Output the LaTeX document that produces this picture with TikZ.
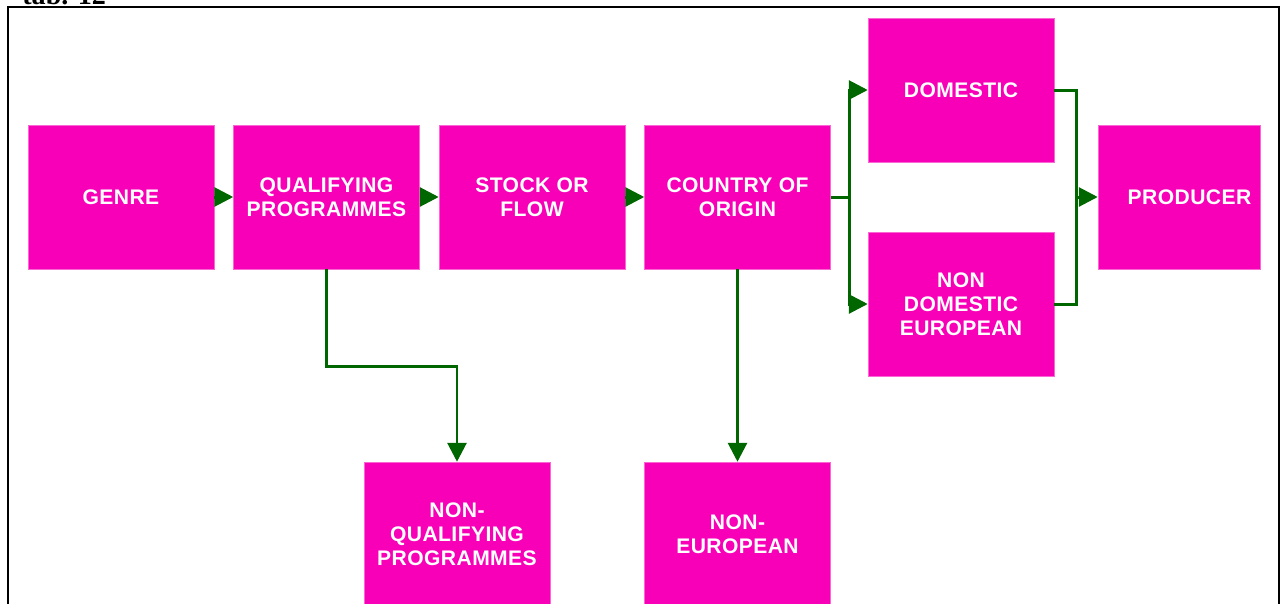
\documentclass[tikz,border=0pt]{standalone}
\usepackage{fontspec}
\setmainfont{Liberation Sans}
\newfontfamily\serifcap{Liberation Serif}
\newfontfamily\boxfont[LetterSpace=2]{Liberation Sans}
\usetikzlibrary{arrows.meta}
\definecolor{boxpink}{RGB}{247,0,184}
\definecolor{flowgreen}{RGB}{0,102,0}

\begin{document}
\begin{tikzpicture}[x=0.02cm,y=-0.02cm,
  stage/.style={fill=boxpink,draw=boxpink!60,line width=0.3pt,text=white,
    minimum width=3.72cm,minimum height=2.88cm,align=center,
    font=\boxfont\fontsize{12}{13.8}\selectfont\bfseries},
  link/.style={flowgreen,line width=1.7pt},
  flow/.style={link,-{Triangle[length=3.8mm,width=3.8mm]}}]
  % page area and frame
  \useasboundingbox (0,0) rectangle (1281,603);
  \clip (0,0) rectangle (1281,603);
  \draw[line width=1.2pt] (8,7) rectangle (1279,640);
  \node[anchor=base west,inner sep=0pt,font=\serifcap\fontsize{16}{18}\selectfont\bfseries] (tab) at (22,4) {tab. 12};
  % top row
  \node[stage] (genre) at (121,197) {GENRE};
  \node[stage] (qual) at (326.5,197) {QUALIFYING\\PROGRAMMES};
  \node[stage] (stock) at (532,197) {STOCK OR\\FLOW};
  \node[stage] (origin) at (737.5,197) {COUNTRY OF\\ORIGIN};
  % split by origin
  \node[stage] (domestic) at (961,90) {DOMESTIC};
  \node[stage] (nondom) at (961,304) {NON\\DOMESTIC\\EUROPEAN};
  \node[stage,minimum width=3.24cm] (producer) at (1179,197) {\hspace*{0.42cm}PRODUCER};
  % bottom row
  \node[stage] (nonqual) at (457,534) {NON-\\QUALIFYING\\PROGRAMMES};
  \node[stage] (noneu) at (737.5,534) {NON-\\EUROPEAN};
  % connectors
  \draw[flow] (genre) -- (qual);
  \draw[flow] (qual) -- (stock);
  \draw[flow] (stock) -- (origin);
  \draw[flow] (qual.south) -- ++(0,97) -| (nonqual.north);
  \draw[flow] (origin.south) -- (noneu.north);
  \coordinate (split) at (849,197);
  \coordinate (join) at (1076,197);
  \draw[link] (origin.east) -- (split);
  \draw[flow] (split) |- (domestic.west);
  \draw[flow] (split) |- (nondom.west);
  \draw[link] (domestic.east) -| (join);
  \draw[link] (nondom.east) -| (join);
  \draw[flow] (join) -- (producer.west);
\end{tikzpicture}
\end{document}
